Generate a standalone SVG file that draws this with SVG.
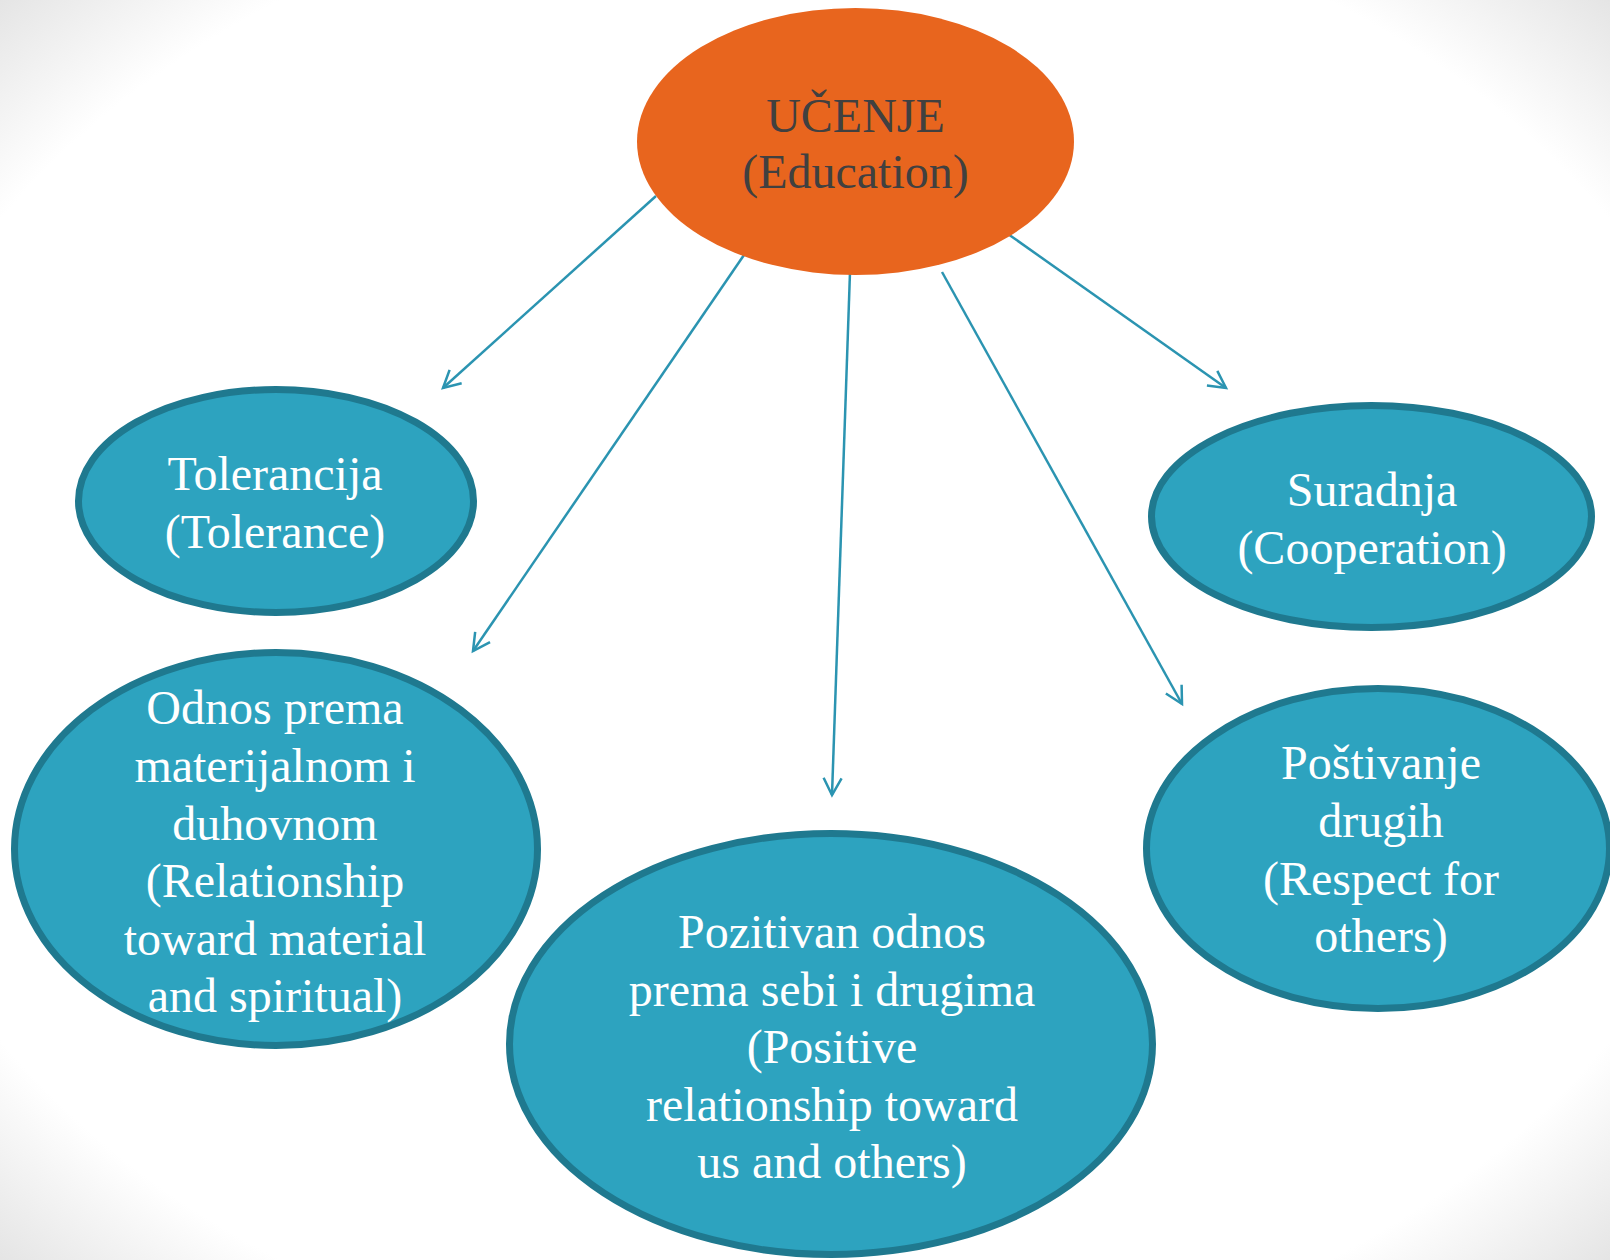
<svg xmlns="http://www.w3.org/2000/svg" width="1610" height="1260" viewBox="0 0 1610 1260">
<style>
.node{fill:#2DA3BF;stroke:#1F798F;stroke-width:7}
.lbl{font-family:"Liberation Serif","Times New Roman",serif;font-size:48px;fill:#FFFFFF;text-anchor:middle}
.ctr{font-family:"Liberation Serif","Times New Roman",serif;font-size:48px;fill:#404040;text-anchor:middle}
.conn{stroke:#2B94B1;stroke-width:2.5;fill:none;marker-end:url(#arr)}
</style>
<defs>
<radialGradient id="bg" cx="0.5" cy="0.5" r="0.71">
<stop offset="0.84" stop-color="#FFFFFF"/>
<stop offset="1" stop-color="#E4E4E4"/>
</radialGradient>
<marker id="arr" markerUnits="userSpaceOnUse" markerWidth="40" markerHeight="40" refX="0" refY="0" viewBox="-20 -20 40 40" orient="auto">
<path d="M-17,-9 L0,0 L-17,9" fill="none" stroke="#2B94B1" stroke-width="2.5" stroke-linejoin="miter"/>
</marker>
</defs>
<rect x="0" y="0" width="1610" height="1260" fill="url(#bg)"/>
<g id="connectors">
<line class="conn" x1="656" y1="196" x2="443" y2="388"/>
<line class="conn" x1="744" y1="255" x2="473" y2="651"/>
<line class="conn" x1="850" y1="272" x2="832" y2="795"/>
<line class="conn" x1="942" y1="272" x2="1182" y2="704"/>
<line class="conn" x1="1008" y1="234" x2="1226" y2="388"/>
</g>
<g id="ucenje">
<ellipse cx="855.5" cy="141.5" rx="218.5" ry="133.5" fill="#E8651E"/>
<text class="ctr" x="855.5" y="132">UČENJE</text>
<text class="ctr" x="855.5" y="188">(Education)</text>
</g>
<g id="tolerancija">
<ellipse class="node" cx="276" cy="501" rx="197.5" ry="111.5"/>
<text class="lbl" x="275" y="490">Tolerancija</text>
<text class="lbl" x="275" y="548">(Tolerance)</text>
</g>
<g id="suradnja">
<ellipse class="node" cx="1371.5" cy="516.5" rx="220" ry="111"/>
<text class="lbl" x="1372" y="506">Suradnja</text>
<text class="lbl" x="1372" y="564">(Cooperation)</text>
</g>
<g id="odnos">
<ellipse class="node" cx="276" cy="849" rx="261.5" ry="196.5"/>
<text class="lbl" x="275" y="724">Odnos prema</text>
<text class="lbl" x="275" y="782">materijalnom i</text>
<text class="lbl" x="275" y="840">duhovnom</text>
<text class="lbl" x="275" y="897">(Relationship</text>
<text class="lbl" x="275" y="955">toward material</text>
<text class="lbl" x="275" y="1012">and spiritual)</text>
</g>
<g id="postivanje">
<ellipse class="node" cx="1378" cy="848.5" rx="231.5" ry="160"/>
<text class="lbl" x="1381" y="779">Poštivanje</text>
<text class="lbl" x="1381" y="837">drugih</text>
<text class="lbl" x="1381" y="895">(Respect for</text>
<text class="lbl" x="1381" y="952">others)</text>
</g>
<g id="pozitivan">
<ellipse class="node" cx="831" cy="1044" rx="321.5" ry="210.5"/>
<text class="lbl" x="832" y="948">Pozitivan odnos</text>
<text class="lbl" x="832" y="1006">prema sebi i drugima</text>
<text class="lbl" x="832" y="1063">(Positive</text>
<text class="lbl" x="832" y="1121">relationship toward</text>
<text class="lbl" x="832" y="1178">us and others)</text>
</g>
</svg>
